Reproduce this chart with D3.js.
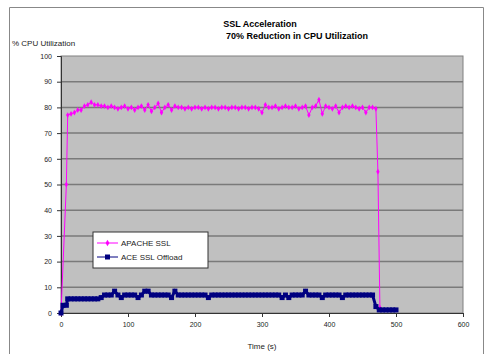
<!DOCTYPE html>
<html>
<head>
<meta charset="utf-8">
<script src="https://cdn.jsdelivr.net/npm/d3@7"></script>
<style>
  body { margin: 0; background: #fff; }
  svg { display: block; font-family: "Liberation Sans", Arial, sans-serif; }
</style>
</head>
<body>
<svg id="chart" width="487" height="356"></svg>
<script>
// x axis ticks (seconds) and y ticks (% cpu)
const xTicks = [0, 100, 200, 300, 400, 500, 600];
const yTicks = [0, 10, 20, 30, 40, 50, 60, 70, 80, 90, 100];
const seriesNames = ["APACHE SSL", "ACE SSL Offload"];

// APACHE SSL: ramp, then 5 s samples from 10 to 470, then the drop
const apacheTimes = [0, 8].concat(d3.range(10, 471, 5), [473, 476]);
const apacheValues = [
  0, 50,
  77, 77.5, 78, 79, 79, 80.5, 81, 82, 81, 81,
  80.5, 80.5, 80, 80.5, 80, 79.5, 80, 80.5, 79.5, 80,
  79, 80, 80.5, 79, 81, 78.5, 80, 81.5, 78, 80,
  81, 79, 80.5, 80, 80, 79.5, 80, 79.5, 80, 80,
  79.5, 80, 79.5, 80, 80, 79.5, 80, 80, 79.5, 80,
  80, 79.5, 80, 80, 79.5, 80, 80, 79.5, 78, 81,
  80, 80, 80.5, 79.5, 80, 80.5, 80, 80, 80.5, 79.5,
  80, 80.5, 77, 80, 80.5, 83, 77.5, 80.5, 80, 79.5,
  80.5, 78, 80, 80.5, 80, 80.5, 80, 79.5, 80, 78,
  80, 80, 79.5,
  55, 2
];

// ACE SSL Offload: 5 s samples from 10 to 500
const aceTimes = [0, 3, 8].concat(d3.range(10, 501, 5));
const aceValues = [
  0, 3, 3,
  5.5, 5.5, 5.5, 5.5, 5.5, 5.5, 5.5, 5.5, 5.5, 5.5,
  6, 7, 7, 7, 8.5, 7, 6, 7, 7, 7,
  7, 6, 7, 8.5, 8.5, 7, 7, 7, 7, 7,
  7, 6, 8.5, 7, 7, 7, 7, 7, 7, 7,
  7, 7, 6, 7, 7, 7, 7, 7, 7, 7,
  7, 7, 7, 7, 7, 7, 7, 7, 7, 7,
  7, 7, 7, 7, 6, 7, 6, 7, 7, 7,
  7, 8.5, 7, 7, 7, 7, 6, 7, 7, 7,
  7, 7, 6, 7, 7, 7, 7, 7, 7, 7,
  7, 7, 2.5, 1.2, 1.2, 1.2, 1.2, 1.2, 1.2, 1.2
];

const svg = d3.select("#chart");
const plot = { left: 61, right: 463, top: 56, bottom: 313 };

const x = d3.scaleLinear().domain([0, 600]).range([plot.left, plot.right]);
const y = d3.scaleLinear().domain([0, 100]).range([plot.bottom, plot.top]);

// outer chart frame
svg.append("path")
  .attr("d", "M9.5,354 L9.5,7.5 L483.5,7.5 L483.5,354")
  .attr("fill", "none")
  .attr("stroke", "#888")
  .attr("stroke-width", 1);

// titles
svg.append("text").attr("x", 260).attr("y", 27)
  .attr("text-anchor", "middle").attr("font-size", 9).attr("font-weight", "bold")
  .text("SSL Acceleration");
svg.append("text").attr("x", 297).attr("y", 39)
  .attr("text-anchor", "middle").attr("font-size", 9).attr("font-weight", "bold")
  .text("70% Reduction in CPU Utilization");
svg.append("text").attr("x", 12).attr("y", 46)
  .attr("font-size", 8).attr("fill", "#222")
  .text("% CPU Utilization");

// plot background
svg.append("rect")
  .attr("x", plot.left).attr("y", plot.top)
  .attr("width", plot.right - plot.left).attr("height", plot.bottom - plot.top)
  .attr("fill", "#c0c0c0")
  .attr("stroke", "#808080");

// gridlines
svg.append("g").selectAll("line")
  .data(yTicks.filter(d => d > 0 && d < 100))
  .join("line")
  .attr("x1", plot.left).attr("x2", plot.right)
  .attr("y1", d => y(d)).attr("y2", d => y(d))
  .attr("stroke", "#7a7a7a")
  .attr("stroke-width", 1.5);

// axes
const yAxis = svg.append("g")
  .attr("transform", `translate(${plot.left},0)`)
  .call(d3.axisLeft(y).tickValues(yTicks).tickSize(4).tickPadding(5));
const xAxis = svg.append("g")
  .attr("transform", `translate(0,${plot.bottom})`)
  .call(d3.axisBottom(x).tickValues(xTicks).tickSize(4).tickPadding(5));
[yAxis, xAxis].forEach(g => {
  g.select(".domain").attr("stroke", "#333");
  g.selectAll(".tick line").attr("stroke", "#333");
  g.selectAll(".tick text").attr("font-size", 7).attr("fill", "#222")
    .attr("font-family", "Liberation Sans, Arial, sans-serif");
});

svg.append("text").attr("x", 262).attr("y", 349)
  .attr("text-anchor", "middle").attr("font-size", 8).attr("fill", "#222")
  .text("Time (s)");

// series
const apache = apacheTimes.map((t, i) => ({ t, v: apacheValues[i] }));
const ace = aceTimes.map((t, i) => ({ t, v: aceValues[i] }));
const line = d3.line().x(d => x(d.t)).y(d => y(d.v));

svg.append("path").datum(apache)
  .attr("d", line).attr("fill", "none")
  .attr("stroke", "#ff00ff").attr("stroke-width", 1);
svg.append("g").selectAll("path")
  .data(apache)
  .join("path")
  .attr("transform", d => `translate(${x(d.t)},${y(d.v)})`)
  .attr("d", d3.symbol(d3.symbolDiamond, 10))
  .attr("fill", "#ff00ff");

svg.append("path").datum(ace)
  .attr("d", line).attr("fill", "none")
  .attr("stroke", "#000080").attr("stroke-width", 3);
svg.append("g").selectAll("rect")
  .data(ace)
  .join("rect")
  .attr("x", d => x(d.t) - 2.5).attr("y", d => y(d.v) - 2.5)
  .attr("width", 5).attr("height", 5)
  .attr("fill", "#000080");

// legend
const legend = svg.append("g").attr("transform", "translate(93,232)");
legend.append("rect")
  .attr("width", 115).attr("height", 36)
  .attr("fill", "#fff").attr("stroke", "#333");
const legendColors = ["#ff00ff", "#000080"];
seriesNames.forEach((name, i) => {
  const ly = 11 + i * 14;
  legend.append("line")
    .attr("x1", 4).attr("x2", 25).attr("y1", ly).attr("y2", ly)
    .attr("stroke", legendColors[i]).attr("stroke-width", 1);
  if (i === 0) {
    legend.append("path")
      .attr("transform", `translate(14.5,${ly})`)
      .attr("d", d3.symbol(d3.symbolDiamond, 12))
      .attr("fill", legendColors[i]);
  } else {
    legend.append("rect")
      .attr("x", 12).attr("y", ly - 2.5).attr("width", 5).attr("height", 5)
      .attr("fill", legendColors[i]);
  }
  legend.append("text")
    .attr("x", 28).attr("y", ly + 3)
    .attr("font-size", 8).attr("fill", "#222")
    .text(name);
});
</script>
</body>
</html>
